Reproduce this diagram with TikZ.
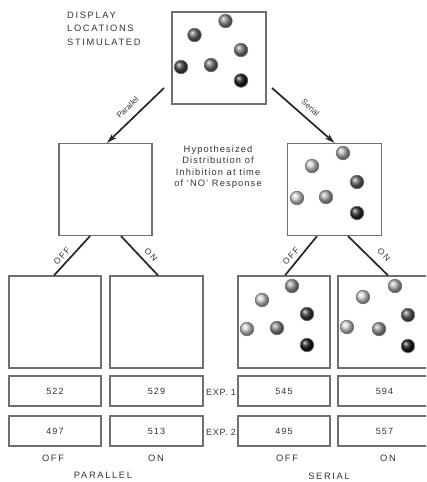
\documentclass[tikz,border=0pt]{standalone}
\usepackage{fontspec}
\setmainfont{Liberation Sans}[LetterSpace=12]
\newfontfamily\widefont{Liberation Sans}[LetterSpace=18]
\newfontfamily\expfont{Liberation Sans}[LetterSpace=8]
\newfontfamily\plainfont{Liberation Sans}
\usetikzlibrary{arrows.meta,calc}
\definecolor{ink}{HTML}{333333}
\definecolor{frame}{HTML}{707070}
\begin{document}
\begin{tikzpicture}[x=1pt,y=-1pt,
  panel/.style={draw=frame,line width=1.2pt,minimum width=#1,minimum height=92pt,inner sep=0pt},
  numbox/.style={draw=frame,line width=1.2pt,minimum width=#1,minimum height=30pt,inner sep=0pt,
     font=\fontsize{9}{10}\selectfont,text=ink},
  conn/.style={draw=black!85,line width=1.7pt},
  arr/.style={conn,-{Stealth[length=10pt,width=6pt]}},
  lbl/.style={font=\fontsize{9.3}{11.3}\selectfont,text=ink},
  explbl/.style={font=\expfont\fontsize{9}{10}\selectfont,text=ink},
  caplbl/.style={font=\widefont\fontsize{9.3}{13.6}\selectfont,text=ink},
  smalllbl/.style={font=\plainfont\fontsize{8}{9}\selectfont,text=ink},
  midlbl/.style={font=\widefont\fontsize{8.5}{9}\selectfont,text=ink},
  dot/.style={draw=black!55,line width=0.6pt,shading=ball,ball color=#1}
]
\useasboundingbox (0,0) rectangle (426,482);
\begin{scope}
\clip (0,0) rectangle (426,482);
% panels
\node[panel=94pt] (top) at (219,58) {};
\node[panel=93pt] (left) at (105.5,189.5) {};
\node[panel=94pt] (right) at (334.5,189.5) {};
\node[panel=92pt] (b1) at (55,322) {};
\node[panel=93pt] (b2) at (156.5,322) {};
\node[panel=92pt] (b3) at (284,322) {};
\node[panel=93pt] (b4) at (384.5,322) {};
% number boxes
\node[numbox=92pt] (n11) at (55,391) {522};
\node[numbox=93pt] (n21) at (156.5,391) {529};
\node[numbox=92pt] (n31) at (284,391) {545};
\node[numbox=93pt] (n41) at (384.5,391) {594};
\node[numbox=92pt] (n12) at (55,431) {497};
\node[numbox=93pt] (n22) at (156.5,431) {513};
\node[numbox=92pt] (n32) at (284,431) {495};
\node[numbox=93pt] (n42) at (384.5,431) {557};
\end{scope}
% texts
\node[caplbl,align=left,anchor=north west,inner sep=0pt] (disp) at (67,11.5)
  {DISPLAY\\LOCATIONS\\STIMULATED};
\node[lbl,align=center,inner sep=0pt] (hyp) at (218,167)
  {Hypothesized\\Distribution of\\Inhibition at time\\of `NO' Response};
\node[explbl,inner sep=0pt] (e1) at (221,392) {EXP. 1};
\node[explbl,inner sep=0pt] (e2) at (221,432) {EXP. 2};
\node[caplbl,inner sep=0pt] (o1) at (53,458) {OFF};
\node[caplbl,inner sep=0pt] (o2) at (156,458) {ON};
\node[caplbl,inner sep=0pt] (o3) at (287,458) {OFF};
\node[caplbl,inner sep=0pt] (o4) at (388,458) {ON};
\node[caplbl,inner sep=0pt] (par) at (103,475) {PARALLEL};
\node[caplbl,inner sep=0pt] (ser) at (329,476) {SERIAL};
% connectors
\coordinate (pa) at (164,88);
\coordinate (sa) at (272,88);
\draw[arr] (pa) -- ($(left.north)+(1.5,0)$);
\draw[arr] (sa) -- (right.north);
\node[smalllbl,rotate=44,inner sep=0pt] (lpar) at (127.5,107.5) {Parallel};
\node[smalllbl,rotate=-42,inner sep=0pt] (lser) at (310.5,107.5) {Serial};
\draw[conn] ($(left.south)+(-15.5,0)$) -- ($(b1.north)+(-1,0)$);
\draw[conn] ($(left.south)+(15.5,0)$) -- ($(b2.north)+(1.5,0)$);
\draw[conn] ($(right.south)+(-17.5,0)$) -- ($(b3.north)+(1,0)$);
\draw[conn] ($(right.south)+(13.5,0)$) -- ($(b4.north)+(3.5,0)$);
\node[midlbl,rotate=48,inner sep=0pt] (loff1) at (62,256) {OFF};
\node[midlbl,rotate=-47,inner sep=0pt] (lon1) at (151,255) {ON};
\node[midlbl,rotate=48,inner sep=0pt] (loff2) at (291,256) {OFF};
\node[midlbl,rotate=-47,inner sep=0pt] (lon2) at (384,255) {ON};
% dots top
\foreach \p/\c in {{(225.5,21)}/black!45,{(194.5,35)}/black!60,{(241,50)}/black!50,
                   {(181,67)}/black!72,{(211,65)}/black!55,{(241,80.5)}/black!88}
  \path[dot=\c] \p circle (6.8pt);
% dots right middle
\foreach \p/\c in {{(343,153)}/black!30,{(312,166)}/black!18,{(357,182)}/black!60,
                   {(297,198)}/black!15,{(326,197)}/black!30,{(357,213)}/black!82}
  \path[dot=\c] \p circle (6.8pt);
% dots b3
\foreach \p/\c in {{(292,286)}/black!38,{(262,300)}/black!18,{(307,314)}/black!78,
                   {(247,329)}/black!18,{(277,328)}/black!45,{(307,345)}/black!90}
  \path[dot=\c] \p circle (6.8pt);
% dots b4
\foreach \p/\c in {{(395,286)}/black!28,{(363,297)}/black!16,{(408,315)}/black!65,
                   {(347,327)}/black!16,{(379,329)}/black!38,{(408,346)}/black!90}
  \path[dot=\c] \p circle (6.8pt);
\end{tikzpicture}
\end{document}
